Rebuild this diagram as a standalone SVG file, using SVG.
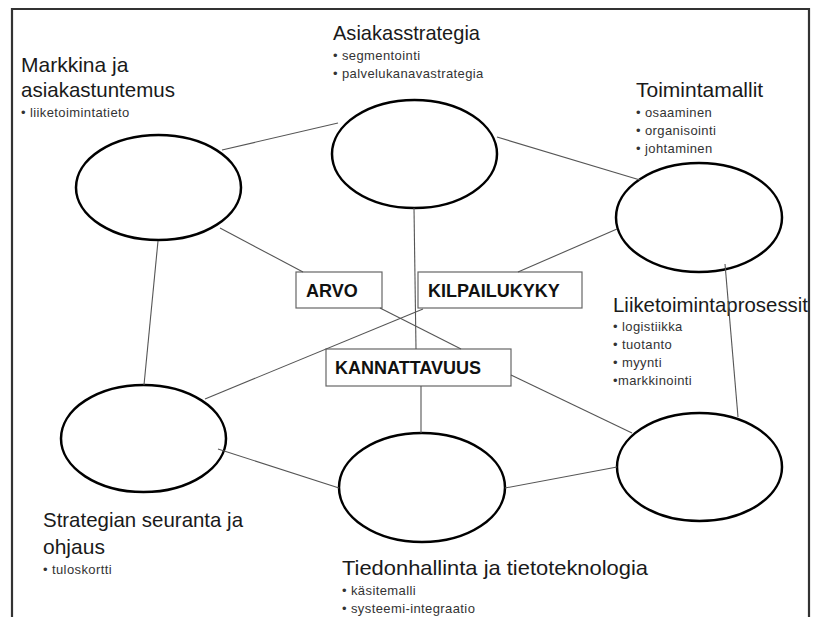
<svg xmlns="http://www.w3.org/2000/svg" width="818" height="617" viewBox="0 0 818 617">
<style>
.big{font-family:"Liberation Sans",Arial,sans-serif;font-size:21px;fill:#1a1a1a}
.sm{font-family:"Liberation Sans",Arial,sans-serif;font-size:13px;fill:#333;letter-spacing:0.4px}
.bx{font-family:"Liberation Sans",Arial,sans-serif;font-size:18px;font-weight:bold;fill:#111}
.el{fill:#fff;stroke:#000;stroke-width:2.5}
.box{fill:#fff;stroke:#666;stroke-width:1.2}
.cn line{stroke:#555;stroke-width:1.1}
</style>
<rect x="0" y="0" width="818" height="617" fill="#fff"/>
<path d="M12 620 V9 H809 V620" fill="none" stroke="#333" stroke-width="2.2"/>
<g id="markkina">
<ellipse class="el" cx="158.5" cy="187.5" rx="82.5" ry="52.5"/>
<text class="big" x="21" y="72">Markkina ja</text>
<text class="big" x="21" y="97" textLength="154" lengthAdjust="spacingAndGlyphs">asiakastuntemus</text>
<text class="sm" x="21" y="117">• liiketoimintatieto</text>
</g>
<g id="asiakasstrategia">
<ellipse class="el" cx="414.5" cy="154" rx="82.5" ry="54"/>
<text class="big" x="333" y="40" textLength="147" lengthAdjust="spacingAndGlyphs">Asiakasstrategia</text>
<text class="sm" x="333" y="60">• segmentointi</text>
<text class="sm" x="333" y="78">• palvelukanavastrategia</text>
</g>
<g id="toimintamallit">
<ellipse class="el" cx="699" cy="217.5" rx="83" ry="54.5"/>
<text class="big" x="636" y="97">Toimintamallit</text>
<text class="sm" x="636" y="117">• osaaminen</text>
<text class="sm" x="636" y="135">• organisointi</text>
<text class="sm" x="636" y="153">• johtaminen</text>
</g>
<g id="strategian">
<ellipse class="el" cx="143.5" cy="438.5" rx="82.5" ry="53.5"/>
<text class="big" x="43" y="527" textLength="200" lengthAdjust="spacingAndGlyphs">Strategian seuranta ja</text>
<text class="big" x="43" y="554">ohjaus</text>
<text class="sm" x="43" y="574">• tuloskortti</text>
</g>
<g id="tiedonhallinta">
<ellipse class="el" cx="422" cy="487.5" rx="83" ry="54.5"/>
<text class="big" x="342" y="575" textLength="306" lengthAdjust="spacingAndGlyphs">Tiedonhallinta ja tietoteknologia</text>
<text class="sm" x="342" y="595">• käsitemalli</text>
<text class="sm" x="342" y="613">• systeemi-integraatio</text>
</g>
<g id="liiketoimintaprosessit">
<ellipse class="el" cx="699.5" cy="467" rx="82.5" ry="54"/>
<text class="big" x="613" y="312" textLength="195" lengthAdjust="spacingAndGlyphs">Liiketoimintaprosessit</text>
<text class="sm" x="613" y="331">• logistiikka</text>
<text class="sm" x="613" y="349">• tuotanto</text>
<text class="sm" x="613" y="367">• myynti</text>
<text class="sm" x="613" y="385">•markkinointi</text>
</g>
<g id="arvo">
<rect class="box" x="296" y="272" width="86" height="36"/>
<text class="bx" x="306" y="297">ARVO</text>
</g>
<g id="kilpailukyky">
<rect class="box" x="418" y="272" width="164" height="36"/>
<text class="bx" x="428" y="297">KILPAILUKYKY</text>
</g>
<g id="kannattavuus">
<rect class="box" x="326" y="349" width="185" height="37"/>
<text class="bx" x="335" y="374">KANNATTAVUUS</text>
</g>
<g id="connectors" class="cn">
<line x1="222" y1="150" x2="338" y2="123"/>
<line x1="220" y1="228" x2="303" y2="272"/>
<line x1="158" y1="241" x2="144" y2="385"/>
<line x1="497" y1="137" x2="640" y2="180"/>
<line x1="414" y1="208" x2="416" y2="349"/>
<line x1="617" y1="229" x2="518" y2="272"/>
<line x1="423" y1="309" x2="205" y2="399"/>
<line x1="380" y1="308" x2="461" y2="349"/>
<line x1="511" y1="375" x2="632" y2="433"/>
<line x1="421" y1="386" x2="421" y2="433"/>
<line x1="725" y1="264" x2="738" y2="417"/>
<line x1="218" y1="449" x2="339" y2="488"/>
<line x1="505" y1="488" x2="617" y2="467"/>
</g>
</svg>
